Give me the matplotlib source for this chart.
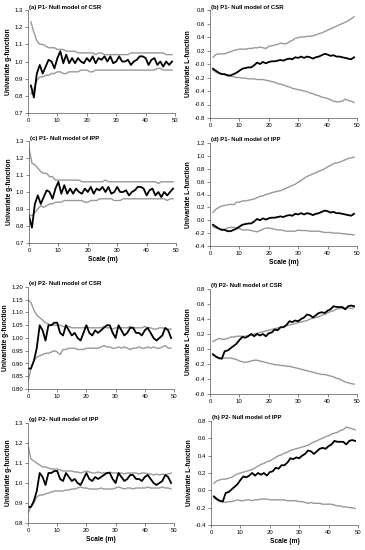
"""
Univariate g- and L-functions for plots P1 and P2 against
CSR and IPP null models (observed vs simulation envelopes).
"""
from matplotlib import pyplot as plt
from matplotlib.ticker import FormatStrFormatter
import numpy as np

plt.rcParams['font.family'] = ['Liberation Sans', 'DejaVu Sans']

# scales (m)
SCALE_0 = list(range(0, 50))
SCALE_1 = list(range(1, 50))

# (a) P1 g-function, CSR
OBS_A = [0.86, 0.79, 0.93, 0.98, 0.93, 0.97, 1.01, 1.00, 0.96, 1.02,
         1.06, 0.99, 1.04, 0.99, 1.02, 0.99, 1.02, 1.00, 0.99, 1.02,
         1.00, 1.03, 0.99, 1.02, 1.01, 1.03, 1.00, 1.03, 0.99, 1.00,
         1.03, 1.00, 1.00, 1.01, 0.98, 1.00, 1.01, 1.03, 1.03, 1.02,
         0.98, 1.01, 1.02, 0.98, 1.00, 0.97, 1.00, 0.98, 1.00]
UP_A = [1.23, 1.17, 1.12, 1.10, 1.10, 1.09, 1.08, 1.08, 1.08, 1.07,
        1.07, 1.07, 1.06, 1.06, 1.06, 1.06, 1.05, 1.05, 1.05, 1.05,
        1.05, 1.05, 1.04, 1.05, 1.05, 1.04, 1.04, 1.04, 1.04, 1.04,
        1.04, 1.04, 1.04, 1.04, 1.05, 1.05, 1.05, 1.05, 1.05, 1.05,
        1.05, 1.05, 1.05, 1.05, 1.05, 1.05, 1.04, 1.04, 1.04]
LO_A = [0.81, 0.84, 0.89, 0.91, 0.91, 0.92, 0.92, 0.93, 0.93, 0.94,
        0.94, 0.93, 0.93, 0.94, 0.94, 0.94, 0.94, 0.95, 0.95, 0.95,
        0.94, 0.94, 0.95, 0.95, 0.95, 0.95, 0.95, 0.95, 0.95, 0.95,
        0.95, 0.95, 0.95, 0.95, 0.95, 0.95, 0.95, 0.95, 0.95, 0.95,
        0.95, 0.95, 0.95, 0.96, 0.96, 0.95, 0.95, 0.95, 0.95]

# (c) P1 g-function, IPP
OBS_C = [0.86, 0.79, 0.93, 0.98, 0.93, 0.97, 1.01, 1.00, 0.96, 1.02,
         1.06, 0.99, 1.04, 0.99, 1.02, 0.99, 1.02, 1.00, 0.99, 1.02,
         1.00, 1.03, 0.99, 1.02, 1.01, 1.03, 1.00, 1.03, 0.99, 1.00,
         1.03, 1.00, 1.00, 1.01, 0.98, 1.00, 1.01, 1.03, 1.03, 1.02,
         0.98, 1.01, 1.02, 0.98, 1.00, 0.97, 1.00, 0.98, 1.00, 1.02]
UP_C = [1.26, 1.17, 1.16, 1.14, 1.12, 1.11, 1.11, 1.09, 1.09, 1.07,
        1.07, 1.07, 1.07, 1.07, 1.07, 1.07, 1.07, 1.07, 1.06, 1.06,
        1.06, 1.06, 1.06, 1.06, 1.06, 1.06, 1.07, 1.06, 1.06, 1.06,
        1.06, 1.06, 1.06, 1.06, 1.06, 1.06, 1.06, 1.06, 1.06, 1.06,
        1.06, 1.06, 1.06, 1.06, 1.05, 1.06, 1.06, 1.06, 1.06, 1.06]
LO_C = [0.87, 0.86, 0.88, 0.90, 0.92, 0.91, 0.92, 0.93, 0.93, 0.94,
        0.94, 0.94, 0.95, 0.95, 0.95, 0.95, 0.95, 0.95, 0.95, 0.94,
        0.94, 0.95, 0.95, 0.95, 0.96, 0.96, 0.96, 0.96, 0.96, 0.95,
        0.95, 0.95, 0.96, 0.96, 0.96, 0.96, 0.96, 0.96, 0.96, 0.96,
        0.96, 0.96, 0.96, 0.96, 0.96, 0.96, 0.96, 0.95, 0.96, 0.96]

# (b), (d) P1 L-function
OBS_P1_L = [-0.07, -0.10, -0.13, -0.15, -0.15, -0.17, -0.17, -0.15, -0.13, -0.10,
            -0.07, -0.06, -0.05, -0.05, -0.02, 0.02, 0.00, 0.03, 0.01, 0.03,
            0.04, 0.04, 0.05, 0.06, 0.05, 0.07, 0.08, 0.07, 0.10, 0.09,
            0.11, 0.09, 0.11, 0.10, 0.08, 0.10, 0.11, 0.13, 0.15, 0.14,
            0.12, 0.13, 0.11, 0.11, 0.10, 0.09, 0.08, 0.07, 0.10]
UP_B = [0.10, 0.14, 0.15, 0.15, 0.15, 0.17, 0.18, 0.20, 0.21, 0.22,
        0.22, 0.22, 0.23, 0.23, 0.24, 0.24, 0.25, 0.24, 0.23, 0.26,
        0.27, 0.28, 0.29, 0.31, 0.30, 0.30, 0.33, 0.35, 0.38, 0.39,
        0.40, 0.40, 0.41, 0.41, 0.42, 0.43, 0.45, 0.46, 0.48, 0.50,
        0.52, 0.54, 0.56, 0.58, 0.60, 0.62, 0.64, 0.67, 0.70]
LO_B = [-0.09, -0.12, -0.14, -0.15, -0.16, -0.17, -0.18, -0.19, -0.20, -0.20,
        -0.21, -0.21, -0.22, -0.22, -0.22, -0.23, -0.23, -0.23, -0.24, -0.25,
        -0.26, -0.27, -0.29, -0.30, -0.31, -0.33, -0.34, -0.36, -0.37, -0.38,
        -0.39, -0.40, -0.41, -0.43, -0.44, -0.46, -0.47, -0.49, -0.50, -0.51,
        -0.53, -0.55, -0.56, -0.56, -0.55, -0.52, -0.54, -0.55, -0.57]
UP_D = [0.12, 0.17, 0.20, 0.22, 0.23, 0.24, 0.25, 0.24, 0.28, 0.28,
        0.30, 0.30, 0.31, 0.32, 0.33, 0.35, 0.37, 0.38, 0.40, 0.41,
        0.43, 0.44, 0.45, 0.46, 0.48, 0.50, 0.52, 0.54, 0.56, 0.59,
        0.62, 0.65, 0.68, 0.70, 0.72, 0.74, 0.76, 0.78, 0.80, 0.83,
        0.85, 0.88, 0.89, 0.90, 0.92, 0.94, 0.96, 0.97, 0.98]
LO_D = [-0.10, -0.12, -0.13, -0.14, -0.14, -0.12, -0.11, -0.11, -0.12, -0.13,
        -0.15, -0.15, -0.15, -0.16, -0.17, -0.18, -0.16, -0.14, -0.12, -0.12,
        -0.13, -0.14, -0.15, -0.15, -0.16, -0.17, -0.17, -0.17, -0.17, -0.15,
        -0.16, -0.16, -0.16, -0.17, -0.17, -0.17, -0.17, -0.18, -0.19, -0.19,
        -0.19, -0.20, -0.20, -0.20, -0.21, -0.21, -0.22, -0.22, -0.23]

# (e), (g) P2 g-function
OBS_P2_G = [0.88, 0.88, 0.91, 0.96, 1.05, 1.03, 0.99, 1.05, 1.05, 1.06,
            1.06, 1.02, 1.01, 1.05, 1.03, 1.01, 1.02, 1.00, 0.99, 1.02,
            1.05, 1.02, 1.01, 1.03, 1.02, 1.03, 1.04, 1.05, 1.05, 1.02,
            1.00, 1.05, 1.03, 1.01, 1.02, 1.04, 1.04, 1.02, 1.02, 1.01,
            1.03, 1.04, 1.02, 1.00, 0.99, 1.00, 1.01, 1.04, 1.03, 1.00]
UP_E = [1.15, 1.14, 1.11, 1.09, 1.08, 1.07, 1.06, 1.055, 1.05, 1.05,
        1.05, 1.05, 1.045, 1.045, 1.045, 1.04, 1.04, 1.04, 1.04, 1.04,
        1.045, 1.04, 1.04, 1.04, 1.04, 1.04, 1.045, 1.04, 1.04, 1.035,
        1.04, 1.04, 1.04, 1.04, 1.04, 1.045, 1.04, 1.04, 1.04, 1.04,
        1.045, 1.04, 1.04, 1.035, 1.035, 1.04, 1.04, 1.035, 1.035, 1.035]
LO_E = [0.83, 0.88, 0.91, 0.925, 0.93, 0.935, 0.94, 0.94, 0.945, 0.95,
        0.945, 0.935, 0.955, 0.955, 0.96, 0.96, 0.96, 0.955, 0.955, 0.955,
        0.96, 0.96, 0.96, 0.96, 0.96, 0.965, 0.97, 0.965, 0.965, 0.96,
        0.96, 0.965, 0.96, 0.965, 0.96, 0.955, 0.96, 0.96, 0.965, 0.96,
        0.96, 0.965, 0.96, 0.965, 0.96, 0.96, 0.965, 0.97, 0.96, 0.96]
UP_G = [1.19, 1.12, 1.11, 1.10, 1.09, 1.08, 1.08, 1.075, 1.07, 1.07,
        1.07, 1.065, 1.06, 1.06, 1.06, 1.06, 1.055, 1.055, 1.05, 1.055,
        1.06, 1.055, 1.05, 1.05, 1.055, 1.05, 1.05, 1.05, 1.055, 1.05,
        1.05, 1.05, 1.05, 1.045, 1.05, 1.05, 1.05, 1.05, 1.045, 1.05,
        1.05, 1.045, 1.045, 1.04, 1.045, 1.04, 1.045, 1.04, 1.045, 1.05]
LO_G = [0.85, 0.88, 0.90, 0.93, 0.94, 0.94, 0.945, 0.95, 0.955, 0.96,
        0.96, 0.96, 0.96, 0.965, 0.965, 0.97, 0.97, 0.975, 0.98, 0.975,
        0.975, 0.97, 0.97, 0.97, 0.97, 0.975, 0.97, 0.97, 0.97, 0.97,
        0.975, 0.98, 0.975, 0.97, 0.975, 0.975, 0.97, 0.975, 0.975, 0.975,
        0.975, 0.98, 0.975, 0.975, 0.975, 0.975, 0.98, 0.975, 0.975, 0.97]

# (f), (h) P2 L-function
OBS_P2_L = [-0.07, -0.10, -0.12, -0.13, -0.03, -0.02, 0.01, 0.04, 0.07, 0.12,
            0.16, 0.15, 0.17, 0.20, 0.17, 0.20, 0.18, 0.20, 0.17, 0.21,
            0.22, 0.26, 0.25, 0.29, 0.29, 0.32, 0.37, 0.36, 0.38, 0.37,
            0.40, 0.42, 0.46, 0.45, 0.42, 0.45, 0.48, 0.49, 0.48, 0.51,
            0.53, 0.57, 0.56, 0.56, 0.56, 0.53, 0.57, 0.58, 0.57]
UP_F = [0.10, 0.12, 0.14, 0.13, 0.13, 0.14, 0.16, 0.16, 0.17, 0.17,
        0.17, 0.17, 0.18, 0.19, 0.20, 0.21, 0.22, 0.23, 0.24, 0.25,
        0.26, 0.27, 0.28, 0.29, 0.30, 0.31, 0.32, 0.33, 0.34, 0.35,
        0.36, 0.37, 0.38, 0.40, 0.41, 0.42, 0.43, 0.45, 0.46, 0.48,
        0.50, 0.51, 0.53, 0.54, 0.54, 0.54, 0.55, 0.54, 0.55]
LO_F = [-0.08, -0.11, -0.13, -0.12, -0.12, -0.12, -0.12, -0.13, -0.14, -0.16,
        -0.17, -0.18, -0.17, -0.16, -0.15, -0.15, -0.16, -0.17, -0.18, -0.19,
        -0.20, -0.21, -0.21, -0.22, -0.22, -0.23, -0.23, -0.24, -0.25, -0.26,
        -0.27, -0.28, -0.29, -0.30, -0.31, -0.32, -0.33, -0.34, -0.34, -0.35,
        -0.36, -0.37, -0.39, -0.40, -0.42, -0.44, -0.45, -0.46, -0.47]
UP_H = [0.08, 0.11, 0.12, 0.13, 0.13, 0.14, 0.15, 0.17, 0.19, 0.20,
        0.21, 0.22, 0.23, 0.24, 0.26, 0.28, 0.30, 0.31, 0.33, 0.34,
        0.36, 0.38, 0.40, 0.41, 0.43, 0.44, 0.46, 0.47, 0.48, 0.49,
        0.50, 0.51, 0.52, 0.54, 0.56, 0.57, 0.59, 0.60, 0.62, 0.63,
        0.65, 0.66, 0.67, 0.69, 0.70, 0.73, 0.72, 0.71, 0.70]
LO_H = [-0.09, -0.11, -0.13, -0.13, -0.14, -0.13, -0.13, -0.12, -0.11, -0.12,
        -0.12, -0.11, -0.11, -0.12, -0.11, -0.11, -0.10, -0.10, -0.10, -0.11,
        -0.11, -0.11, -0.11, -0.11, -0.11, -0.12, -0.12, -0.12, -0.12, -0.13,
        -0.13, -0.14, -0.15, -0.14, -0.15, -0.15, -0.15, -0.16, -0.16, -0.16,
        -0.16, -0.17, -0.18, -0.18, -0.19, -0.19, -0.20, -0.20, -0.21]

W, H = 365, 550
GREY = '#999999'


def panel(fig, box, title, ylab, x, obs, up, lo, yticks, fmt, xlab=False):
    """box = (left, top, right, bottom) in pixels from top-left"""
    l, t, r, b = box
    ax = fig.add_axes([l / W, 1 - b / H, (r - l) / W, (b - t) / H])
    ax.plot(x, up, color=GREY, lw=1.0)
    ax.plot(x, lo, color=GREY, lw=1.0)
    ax.plot(x, obs, color='black', lw=1.3)
    ax.set_xlim(0, 50)
    ax.set_xticks(np.arange(0, 51, 10))
    ax.set_ylim(yticks[0], yticks[-1])
    ax.set_yticks(yticks)
    ax.yaxis.set_major_formatter(FormatStrFormatter(fmt))
    for s in ['top', 'right']:
        ax.spines[s].set_visible(False)
    for s in ['left', 'bottom']:
        ax.spines[s].set_linewidth(0.5)
        ax.spines[s].set_color('#555555')
    ax.tick_params(labelsize=4.3, length=2, width=0.5, pad=1.5,
                   colors='#555555', labelcolor='black')
    ax.set_ylabel(ylab, fontsize=4.8, fontweight='bold', labelpad=2)
    if xlab:
        ax.set_xlabel('Scale (m)', fontsize=4.8, fontweight='bold', labelpad=2)
    fig.text((l + 1) / W, 1 - (t - 3) / H, title, fontsize=4.3,
             fontweight='bold', va='center', ha='left')
    return ax


fig = plt.figure(figsize=(W / 100, H / 100), dpi=100)

panel(fig, (28, 10, 175, 113), '(a) P1- Null model of CSR', 'Univariate g-function',
      SCALE_1, OBS_A, UP_A, LO_A, np.arange(0.7, 1.31, 0.1), '%.1f')
panel(fig, (210, 10, 357, 118), '(b) P1- Null model of CSR', 'Univariate L-function',
      SCALE_1, OBS_P1_L, UP_B, LO_B, np.arange(-0.8, 0.81, 0.2), '%.1f')
panel(fig, (29, 141, 176, 243), '(c) P1- Null model of IPP', 'Univariate g-function',
      SCALE_0, OBS_C, UP_C, LO_C, np.arange(0.7, 1.31, 0.1), '%.1f', xlab=True)
panel(fig, (210, 143, 357, 246), '(d) P1- Null model of IPP', 'Univariate L-function',
      SCALE_1, OBS_P1_L, UP_D, LO_D, np.arange(-0.4, 1.21, 0.2), '%.1f', xlab=True)
panel(fig, (28, 287, 174, 389), '(e) P2- Null model of CSR', 'Univariate g-function',
      SCALE_0, OBS_P2_G, UP_E, LO_E, np.arange(0.8, 1.201, 0.05), '%.2f')
panel(fig, (210, 289, 357, 394), '(f) P2- Null model of CSR', 'Univariate L-function',
      SCALE_1, OBS_P2_L, UP_F, LO_F, np.arange(-0.6, 0.81, 0.2), '%.1f')
panel(fig, (28, 423, 174, 523), '(g) P2- Null model of IPP', 'Univariate g-function',
      SCALE_0, OBS_P2_G, UP_G, LO_G, np.arange(0.8, 1.31, 0.1), '%.1f', xlab=True)
panel(fig, (211, 421, 358, 525), '(h) P2- Null model of IPP', 'Univariate L-function',
      SCALE_1, OBS_P2_L, UP_H, LO_H, np.arange(-0.4, 0.81, 0.2), '%.1f', xlab=True)

fig.savefig('out.png', dpi=100, facecolor='white')
